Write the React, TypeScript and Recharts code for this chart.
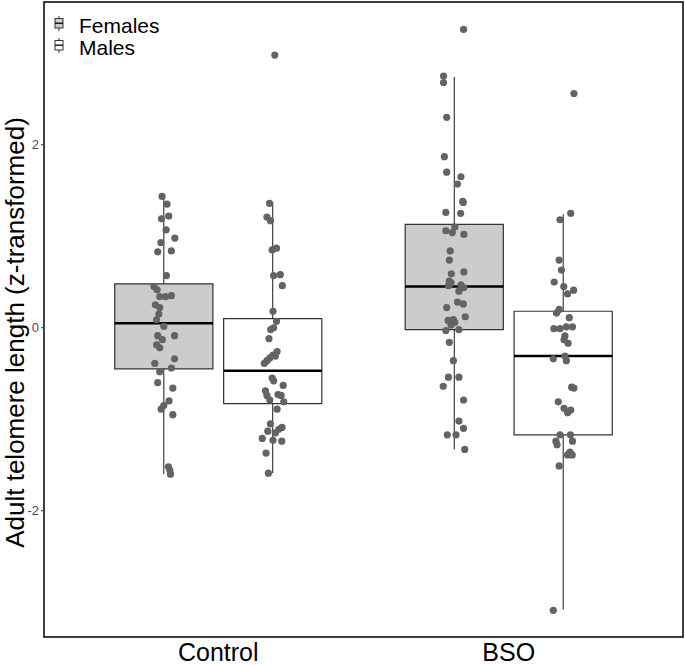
import React from "react";
import {
  ComposedChart,
  Scatter,
  XAxis,
  YAxis,
  ReferenceArea,
  ReferenceLine,
} from "recharts";

const groups = ["Control", "BSO"];
const sexes = ["Females", "Males"];
const yTicks = [-2, 0, 2];

// box stats, order: Control F, Control M, BSO F, BSO M
const boxLower = [-1.6, -1.59, -1.33, -3.08];
const boxQ1 = [-0.45, -0.83, -0.02, -1.17];
const boxMedian = [0.05, -0.47, 0.45, -0.31];
const boxQ3 = [0.48, 0.1, 1.13, 0.18];
const boxUpper = [1.42, 1.37, 2.74, 1.24];
const boxFill = ["#cccccc", "#ffffff", "#cccccc", "#ffffff"];

// jittered points: [jitter, value]
const controlFemales: [number, number][] = [
  [-0.006, 1.435], [0.011, 1.35], [-0.008, 1.19], [0.017, 1.22], [0.008, 1.07],
  [0.038, 0.98], [-0.01, 0.93], [-0.021, 0.83], [0.026, 0.84], [0.009, 0.57],
  [-0.034, 0.45], [-0.023, 0.415], [-0.014, 0.34], [0.006, 0.34], [0.026, 0.35],
  [-0.029, 0.25], [-0.014, 0.22], [-0.017, 0.15], [-0.025, 0.087], [0, 0.014],
  [-0.021, -0.087], [0.037, -0.087], [-0.005, -0.13], [-0.025, -0.186], [-0.014, -0.22],
  [-0.031, -0.39], [0.037, -0.34], [0.026, -0.44], [-0.014, -0.48], [-0.021, -0.6],
  [0.031, -0.66], [0.018, -0.8], [0, -0.85], [-0.009, -0.89], [0.031, -0.95],
  [0.016, -1.52], [0.021, -1.56], [0.023, -1.6],
];
const controlMales: [number, number][] = [
  [0.007, 2.98], [-0.011, 1.36], [-0.02, 1.21], [-0.008, 1.17], [-0.002, 0.85],
  [0.013, 0.87], [0.003, 0.57], [0.026, 0.58], [0.033, 0.46], [0.001, 0.18],
  [0.013, 0.07], [-0.007, -0.02], [0.003, 0.0], [-0.013, -0.12], [0.015, -0.26],
  [0.001, -0.3], [-0.01, -0.33], [-0.029, -0.39], [0.009, -0.31], [-0.02, -0.36],
  [-0.002, -0.55], [0.003, -0.58], [0.036, -0.63], [-0.025, -0.69], [-0.02, -0.74],
  [-0.01, -0.79], [0.018, -0.73], [0.029, -0.74], [0.038, -0.81], [0.015, -0.89],
  [-0.008, -1.05], [0.032, -1.09], [0.021, -1.11], [0.009, -1.15], [-0.017, -1.13],
  [-0.036, -1.21], [0.031, -1.24], [0.001, -1.23], [-0.023, -1.37], [-0.015, -1.59],
];
const bsoFemales: [number, number][] = [
  [0.032, 3.26], [-0.037, 2.75], [-0.037, 2.68], [-0.026, 2.3], [-0.034, 1.87],
  [-0.026, 1.7], [0.023, 1.65], [0.011, 1.57], [0.029, 1.38], [0.031, 1.37],
  [-0.029, 1.26], [0.022, 1.25], [0.002, 1.1], [-0.029, 1.06], [-0.007, 1.04],
  [0.033, 1.02], [-0.014, 0.84], [-0.017, 0.74], [-0.01, 0.59], [0.033, 0.61],
  [-0.017, 0.51], [-0.011, 0.49], [-0.02, 0.46], [0.023, 0.47], [0.033, 0.44],
  [0.016, 0.4], [0.011, 0.28], [0.031, 0.26], [-0.026, 0.22], [0.038, 0.12],
  [-0.021, 0.08], [-0.003, 0.09], [0.002, 0.06], [-0.011, 0.03], [-0.029, -0.03],
  [0.016, -0.02], [-0.017, -0.16], [-0.003, -0.36], [-0.02, -0.54], [0.016, -0.54],
  [-0.038, -0.64], [0.032, -0.79], [0.016, -1.02], [0.032, -1.1], [-0.024, -1.17],
  [0.006, -1.17], [0.036, -1.33],
];
const bsoMales: [number, number][] = [
  [0.037, 2.56], [0.026, 1.25], [-0.011, 1.18], [-0.014, 0.74], [-0.006, 0.63],
  [-0.031, 0.5], [0.002, 0.45], [0.036, 0.41], [0.015, 0.37], [-0.014, 0.2],
  [-0.023, 0.16], [0.021, 0.11], [-0.032, -0.01], [-0.011, -0.01], [0.011, 0.01],
  [0.032, 0.01], [0.006, -0.09], [0.003, -0.13], [0.017, -0.17], [-0.034, -0.34],
  [0.006, -0.31], [0.011, -0.36], [0.029, -0.65], [0.037, -0.66], [-0.017, -0.81],
  [0.003, -0.88], [0.026, -0.9], [0.015, -0.93], [-0.011, -1.17], [0.025, -1.17],
  [-0.025, -1.24], [-0.021, -1.28], [0.032, -1.24], [0.023, -1.36], [0.015, -1.39],
  [0.031, -1.39], [-0.014, -1.51], [-0.034, -3.09],
];

const pointSets = [controlFemales, controlMales, bsoFemales, bsoMales];

const DODGE = 0.1875;
const HALF_BOX = 0.169;
const X_DOMAIN: [number, number] = [0.4, 2.6];
const Y_DOMAIN: [number, number] = [-3.38, 3.56];
const FONT = "'Liberation Sans', Arial, sans-serif";

const boxCenter = (i: number) => Math.floor(i / 2) + 1 + (i % 2 === 0 ? -DODGE : DODGE);

const points = pointSets.flatMap((set, i) =>
  set.map(([j, v]) => ({ x: boxCenter(i) + j, y: v }))
);

function LegendIcon({ fill, top }: { fill: string; top: number }) {
  return (
    <svg width={10} height={16} style={{ position: "absolute", left: 53.5, top }}>
      <line x1={5} y1={0} x2={5} y2={15} stroke="#333" strokeWidth={1} />
      <rect x={1} y={2.5} width={8} height={9.5} fill={fill} stroke="#333" strokeWidth={1} />
      <line x1={1} y1={7.2} x2={9} y2={7.2} stroke="#000" strokeWidth={1.3} />
    </svg>
  );
}

export default function App() {
  return (
    <div style={{ position: "absolute", left: 0, top: 0, width: 685, height: 665, background: "#fff" }}>
      <ComposedChart
        width={685}
        height={665}
        data={points}
        margin={{ top: 2, right: 2, left: 0, bottom: 0 }}
      >
        <XAxis
          type="number"
          dataKey="x"
          domain={X_DOMAIN}
          allowDataOverflow
          ticks={[1, 2]}
          tickFormatter={(v: number) => groups[v - 1]}
          height={28}
          axisLine={false}
          tickLine={false}
          tickSize={0}
          tickMargin={6}
          tick={{ fontSize: 25, fill: "#000", fontFamily: FONT }}
        />
        <YAxis
          type="number"
          dataKey="y"
          domain={Y_DOMAIN}
          allowDataOverflow
          ticks={yTicks}
          width={44}
          axisLine={false}
          tickSize={3}
          tickMargin={2}
          tickLine={{ stroke: "#333" }}
          tick={{ fontSize: 13, fill: "#4d4d4d", fontFamily: FONT }}
          label={{
            value: "Adult telomere length (z-transformed)",
            angle: -90,
            position: "center",
            dx: -7,
            dy: 13,
            style: { fontSize: 26, fill: "#000", fontFamily: FONT, textAnchor: "middle" },
          }}
        />
        {boxQ1.map((q1, i) => (
          <ReferenceLine
            key={`wl${i}`}
            segment={[{ x: boxCenter(i), y: boxLower[i] }, { x: boxCenter(i), y: q1 }]}
            stroke="#1a1a1a"
            strokeWidth={1}
          />
        ))}
        {boxQ3.map((q3, i) => (
          <ReferenceLine
            key={`wu${i}`}
            segment={[{ x: boxCenter(i), y: q3 }, { x: boxCenter(i), y: boxUpper[i] }]}
            stroke="#1a1a1a"
            strokeWidth={1}
          />
        ))}
        {boxQ1.map((q1, i) => (
          <ReferenceArea
            key={`b${i}`}
            x1={boxCenter(i) - HALF_BOX}
            x2={boxCenter(i) + HALF_BOX}
            y1={q1}
            y2={boxQ3[i]}
            fill={boxFill[i]}
            fillOpacity={1}
            stroke="#333333"
            strokeWidth={1.2}
          />
        ))}
        {boxMedian.map((m, i) => (
          <ReferenceLine
            key={`m${i}`}
            segment={[{ x: boxCenter(i) - HALF_BOX, y: m }, { x: boxCenter(i) + HALF_BOX, y: m }]}
            stroke="#000"
            strokeWidth={2.5}
          />
        ))}
        <ReferenceArea
          x1={X_DOMAIN[0]}
          x2={X_DOMAIN[1]}
          y1={Y_DOMAIN[0]}
          y2={Y_DOMAIN[1]}
          fill="none"
          stroke="#000"
          strokeWidth={1.5}
        />
        <Scatter
          dataKey="y"
          isAnimationActive={false}
          shape={(p: any) => <circle cx={p.cx} cy={p.cy} r={3.6} fill="#636363" />}
        />
      </ComposedChart>
      {sexes.map((s, i) => (
        <React.Fragment key={s}>
          <LegendIcon fill={i === 0 ? "#cccccc" : "#ffffff"} top={i === 0 ? 16 : 37.5} />
          <span
            style={{
              position: "absolute",
              left: 79,
              top: i === 0 ? 15 : 36.5,
              fontFamily: FONT,
              fontSize: 21,
              lineHeight: 1,
              color: "#000",
              whiteSpace: "nowrap",
            }}
          >
            {s}
          </span>
        </React.Fragment>
      ))}
    </div>
  );
}
